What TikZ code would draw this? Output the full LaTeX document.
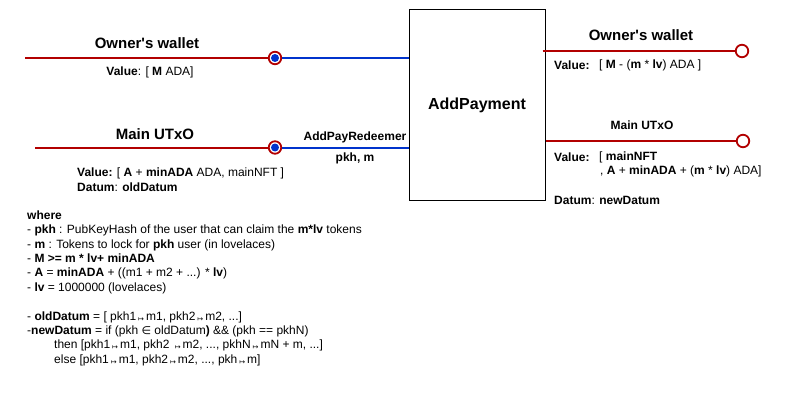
\documentclass[tikz,border=0pt]{standalone}
\usepackage{fontspec}
\setmainfont{Liberation Sans}[Ligatures=TeXOff]
\newfontfamily\symfont{DejaVu Sans}
\usetikzlibrary{positioning}

\definecolor{utxored}{HTML}{B20000}
\definecolor{utxoblue}{HTML}{0033CC}
\newcommand{\mapto}{\,{\symfont\fontsize{7}{8}\selectfont\raisebox{-1pt}{↦}}\,}
\newcommand{\isin}{{\symfont\fontsize{11}{12}\selectfont ∈}}

\begin{document}
\begin{tikzpicture}[x=1pt, y=-1pt,
        wire/.style={line width=2pt},
        inport/.style={circle, draw=utxored, fill=white, line width=1.8pt, minimum size=12.5pt, inner sep=0pt,
            path picture={\fill[utxoblue] (path picture bounding box.center) circle (4pt);}},
        outport/.style={circle, draw=utxored, fill=white, line width=1.8pt, minimum size=12.5pt, inner sep=0pt},
        title/.style={font=\bfseries\fontsize{15}{18}\selectfont, inner sep=0pt},
        lbl/.style={font=\fontsize{12}{14.4}\selectfont, inner sep=0pt},
        sublbl/.style={font=\bfseries\fontsize{12}{14.4}\selectfont, inner sep=0pt}
    ]
        \useasboundingbox (0,0) rectangle (786,401);

        % Transaction
        \node[draw, line width=1pt, minimum width=136pt, minimum height=190pt,
            font=\bfseries\fontsize{16}{19}\selectfont] (pay) at (477,105) {AddPayment};

        % Inputs
        \coordinate (owIn) at (25,58);
        \node[inport] (owPort) at (275,58) {};
        \draw[wire, utxored] (owIn) -- (owPort);
        \draw[wire, utxoblue] (owPort) -- (owPort -| pay.west);
        \node[title] (owTitle) at (147,43) {Owner's wallet};
        \node[lbl] at (150,72) {\textbf{Value}: [ \textbf{M} ADA]};

        \coordinate (mainIn) at (35,147.5);
        \node[inport] (mainPort) at (275,147.5) {};
        \draw[wire, utxored] (mainIn) -- (mainPort);
        \draw[wire, utxoblue] (mainPort) -- (mainPort -| pay.west);
        \node[title] (mainTitle) at (155,134) {Main UTxO};
        \node[lbl, anchor=north west, align=left, font=\fontsize{12}{15}\selectfont] at (77,167.5)
            {\textbf{Value:} [ \textbf{A} + \textbf{minADA} ADA, mainNFT ]\\ \textbf{Datum}: \textbf{oldDatum}};

        % Redeemer
        \coordinate (red) at (355,147.5);
        \node[sublbl, above=4pt of red] {AddPayRedeemer};
        \node[sublbl, below=5pt of red] {pkh, m};

        % Outputs
        \node[outport] (owEnd) at (742,51) {};
        \draw[wire, utxored] ([xshift=-3pt]pay.east |- owEnd) -- (owEnd);
        \node[title] at (641,35) {Owner's wallet};
        \node[lbl, anchor=west] (owVal) at (554,65) {\textbf{Value:}};
        \node[lbl, anchor=west] at (599,65) {[ \textbf{M} - (\textbf{m} * \textbf{lv}) ADA ]};

        \node[outport] (mainEnd) at (743,141) {};
        \draw[wire, utxored] (pay.east |- mainEnd) -- (mainEnd);
        \node[sublbl] at (642,125) {Main UTxO};
        \node[lbl, anchor=west] (mainVal) at (554,157) {\textbf{Value:}};
        \node[lbl, anchor=west] at (599,157) {[ \textbf{mainNFT}};
        \node[lbl, anchor=west] at (600,171) {, \textbf{A} + \textbf{minADA} + (\textbf{m} * \textbf{lv}) ADA]};
        \node[lbl, anchor=west] at (554,200) {\textbf{Datum}: \textbf{newDatum}};

        % Legend
        \node[lbl, anchor=north west, align=left] (legend) at (27,210.5) {%
            \textbf{where}\\
            - \textbf{pkh} : PubKeyHash of the user that can claim the \textbf{m*lv} tokens\\
            - \textbf{m} : Tokens to lock for \textbf{pkh} user (in lovelaces)\\
            - \textbf{M >= m * lv+ minADA}\\
            - \textbf{A} = \textbf{minADA} + ((m1 + m2 + ...) * \textbf{lv})\\
            - \textbf{lv} = 1000000 (lovelaces)\\[14.4pt]
            - \textbf{oldDatum} = [ pkh1\mapto m1, pkh2\mapto m2, ...]\\
            -\textbf{newDatum} = if (pkh \isin{} oldDatum\textbf{)} \&\& (pkh == pkhN)\\
            \hspace*{27pt}then [pkh1\mapto m1, pkh2 \mapto m2, ..., pkhN\mapto mN + m, ...]\\
            \hspace*{27pt}else [pkh1\mapto m1, pkh2\mapto m2, ..., pkh\mapto m]};
    \end{tikzpicture}
\end{document}
